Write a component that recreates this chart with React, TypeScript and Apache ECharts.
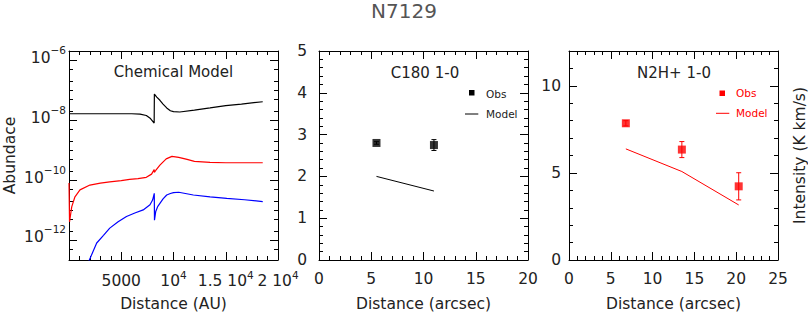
import React, { useEffect, useRef } from 'react';
import * as echarts from 'echarts';

const FONT = "'DejaVu Sans', 'Liberation Sans', sans-serif";
const INK = '#222';

// ---------- Panel 1: Chemical Model (Distance in AU, abundance) ----------
const blackX = [0, 2000, 4000, 6000, 6800, 7400, 7800, 8150, 8170, 8400, 8700, 9000, 9350, 9700, 10000, 10600, 12000, 13500, 15000, 16500, 18540];
const blackY = [1.66e-8, 1.66e-8, 1.66e-8, 1.66e-8, 1.62e-8, 1.45e-8, 1.15e-8, 8.1e-9, 7.6e-8, 6.0e-8, 4.7e-8, 3.5e-8, 2.6e-8, 2.1e-8, 1.95e-8, 1.9e-8, 2.2e-8, 2.6e-8, 3.1e-8, 3.5e-8, 4.2e-8];

const redX = [0, 50, 260, 570, 1050, 2000, 3000, 3900, 5000, 5800, 6600, 7400, 7900, 8150, 8170, 8300, 8700, 9300, 9850, 10500, 11300, 12000, 13500, 15000, 18540];
const redY = [7.9e-11, 4.0e-12, 1.26e-11, 2.75e-11, 4.7e-11, 6.8e-11, 7.9e-11, 8.7e-11, 9.5e-11, 1.05e-10, 1.12e-10, 1.23e-10, 1.58e-10, 2.24e-10, 1.82e-10, 2.09e-10, 3.16e-10, 5.1e-10, 6.2e-10, 5.75e-10, 4.9e-10, 4.2e-10, 3.9e-10, 3.8e-10, 3.8e-10];

const blueX = [1500, 1950, 2650, 3300, 3900, 4700, 5500, 6300, 7100, 7750, 8000, 8160, 8180, 8300, 8500, 8700, 9000, 9350, 9700, 10000, 10500, 11900, 13500, 15100, 16800, 18540];
const blueY = [7.9e-14, 2.1e-13, 7.8e-13, 1.41e-12, 2.45e-12, 4.0e-12, 6.0e-12, 7.9e-12, 1.0e-11, 1.48e-11, 2.14e-11, 3.6e-11, 4.5e-12, 8.9e-12, 1.32e-11, 1.66e-11, 2.34e-11, 3.16e-11, 3.55e-11, 3.8e-11, 3.9e-11, 3.16e-11, 2.75e-11, 2.45e-11, 2.19e-11, 1.9e-11];

const auMajor = [5000, 10000, 15000, 20000];
const auMinor = [1000, 2000, 3000, 4000, 6000, 7000, 8000, 9000, 11000, 12000, 13000, 14000, 16000, 17000, 18000, 19000];
const auTickLabels = ['{m|5000}', '{m|10}{s|4}', '{m|1.5 10}{s|4}', '{m|2 10}{s|4}'];

const abMajor = [1e-12, 1e-10, 1e-8, 1e-6];
const abMinor = [5e-13, 2e-12, 5e-12, 1e-11, 2e-11, 5e-11, 2e-10, 5e-10, 1e-9, 2e-9, 5e-9, 2e-8, 5e-8, 1e-7, 2e-7, 5e-7, 2e-6];
const abTickLabels = ['{m|10}{s|\u221212}', '{m|10}{s|\u221210}', '{m|10}{s|\u22128}', '{m|10}{s|\u22126}'];

// ---------- Panel 2: C18O 1-0 ----------
const c18oObsX = [5.5, 11.0];
const c18oObsY = [2.8, 2.75];
const c18oObsErr = [0.03, 0.13];
const c18oModelX = [5.5, 11.0];
const c18oModelY = [2.0, 1.65];
const c18oXTicks = [0, 5, 10, 15, 20];
const c18oYTicks = [0, 1, 2, 3, 4, 5];

// ---------- Panel 3: N2H+ 1-0 ----------
const n2hObsX = [6.8, 13.5, 20.3];
const n2hObsY = [7.85, 6.34, 4.23];
const n2hObsErr = [0.15, 0.46, 0.78];
const n2hModelX = [6.8, 13.5, 20.3];
const n2hModelY = [6.38, 5.08, 3.16];
const n2hXTicks = [0, 5, 10, 15, 20, 25];
const n2hYTicks = [0, 5, 10];

function minorBetween(majors: number[], step: number, max: number): number[] {
  const out: number[] = [];
  const n = Math.round(max / step);
  for (let i = 1; i < n; i++) {
    const v = +(i * step).toFixed(6);
    if (!majors.some((m) => Math.abs(m - v) < 1e-9)) out.push(v);
  }
  return out;
}

const tickLine = { color: '#000', width: 1 };

type Spec = {
  grid: number;
  type: 'value' | 'log';
  min: number;
  max: number;
  major: number[];
  minor: number[];
  label?: any;
  name?: any;
  name2?: any;
};

function buildAxes(spec: Spec, pos1: string, pos2: string) {
  const common = {
    gridIndex: spec.grid,
    type: spec.type,
    min: spec.min,
    max: spec.max,
    splitLine: { show: false },
    minorTick: { show: false },
    minorSplitLine: { show: false },
  };
  const line = { show: true, onZero: false, lineStyle: tickLine };
  const noLine = { show: false, onZero: false };
  const majorTick = { show: true, inside: true, length: 8, customValues: spec.major, lineStyle: tickLine };
  const minorTk = { show: true, inside: true, length: 4, customValues: spec.minor, lineStyle: tickLine };
  return [
    { ...common, position: pos1, axisLine: line, axisTick: majorTick, axisLabel: spec.label || { show: false }, ...(spec.name || {}) },
    { ...common, position: pos1, axisLine: noLine, axisTick: minorTk, axisLabel: { show: false } },
    { ...common, position: pos2, axisLine: line, axisTick: majorTick, axisLabel: { show: false }, ...(spec.name2 || {}) },
    { ...common, position: pos2, axisLine: noLine, axisTick: minorTk, axisLabel: { show: false } },
  ];
}

function plainLabel(values: number[], margin: number) {
  return {
    show: true,
    customValues: values,
    margin,
    color: INK,
    fontSize: 15.5,
    fontFamily: FONT,
    showMinLabel: true,
    showMaxLabel: true,
  };
}

function axisName(text: string, gap: number) {
  return {
    name: text,
    nameLocation: 'middle',
    nameGap: gap,
    nameMoveOverlap: false,
    nameTextStyle: { fontSize: 15.5, fontFamily: FONT, color: INK },
  };
}

// superscripts: the small token is padded below so its text rides high in the line
function richX() {
  return {
    m: { fontSize: 15.5, fontFamily: FONT, color: INK, lineHeight: 23 },
    s: { fontSize: 10.5, fontFamily: FONT, color: INK, lineHeight: 11, padding: [0, 0, 12, 0] },
  };
}
function richY() {
  return {
    m: { fontSize: 15.5, fontFamily: FONT, color: INK, lineHeight: 16, padding: [0, 0, 5, 0] },
    s: { fontSize: 10.5, fontFamily: FONT, color: INK, lineHeight: 11, padding: [0, 0, 21, 0] },
  };
}

function pickLabel(majors: number[], labels: string[], v: number, log: boolean) {
  const i = majors.findIndex((m) => (log ? Math.abs(Math.log10(m) - Math.log10(v)) < 0.01 : Math.abs(m - v) < 1e-6));
  return i >= 0 ? labels[i] : '';
}

function errorSeries(xi: number, yi: number, xs: number[], ys: number[], es: number[], color: string) {
  return {
    type: 'custom',
    xAxisIndex: xi,
    yAxisIndex: yi,
    data: xs.map((x, i) => [x, ys[i] - es[i], ys[i] + es[i]]),
    encode: { x: 0, y: [1, 2] },
    z: 2,
    silent: true,
    renderItem: (_p: any, api: any) => {
      const x = api.value(0);
      const lo = api.coord([x, api.value(1)]);
      const hi = api.coord([x, api.value(2)]);
      const c = 2.5;
      const st = { stroke: color, lineWidth: 1 };
      return {
        type: 'group',
        children: [
          { type: 'line', shape: { x1: lo[0], y1: lo[1], x2: hi[0], y2: hi[1] }, style: st },
          { type: 'line', shape: { x1: lo[0] - c, y1: lo[1], x2: lo[0] + c, y2: lo[1] }, style: st },
          { type: 'line', shape: { x1: hi[0] - c, y1: hi[1], x2: hi[0] + c, y2: hi[1] }, style: st },
        ],
      };
    },
  };
}

function txt(text: string, x: number, y: number, size: number, color: string, align = 'center') {
  return {
    type: 'text',
    x,
    y,
    silent: true,
    style: {
      text,
      fill: color,
      fontSize: size,
      fontFamily: FONT,
      align,
      verticalAlign: 'middle',
      textAlign: align,
      textVerticalAlign: 'middle',
    },
  };
}

export default function App() {
  const ref = useRef<HTMLDivElement>(null);
  useEffect(() => {
    if (!ref.current) return;
    const chart = echarts.init(ref.current, null, { renderer: 'svg' });

    const grids = [
      { left: 69, top: 51, width: 209, height: 209, outerBoundsMode: 'none', containLabel: false },
      { left: 319, top: 51, width: 209, height: 209, outerBoundsMode: 'none', containLabel: false },
      { left: 569, top: 51, width: 209, height: 209, outerBoundsMode: 'none', containLabel: false },
    ];

    const xAxes = [
      ...buildAxes(
        {
          grid: 0, type: 'value', min: 0, max: 20000, major: auMajor, minor: auMinor,
          label: {
            show: true, customValues: auMajor, margin: 9, showMinLabel: true, showMaxLabel: true,
            formatter: (v: number) => pickLabel(auMajor, auTickLabels, v, false),
            rich: richX(),
          },
          name: axisName('Distance (AU)', 36),
        },
        'bottom', 'top'
      ),
      ...buildAxes(
        {
          grid: 1, type: 'value', min: 0, max: 20, major: c18oXTicks, minor: minorBetween(c18oXTicks, 1, 20),
          label: plainLabel(c18oXTicks, 11),
          name: axisName('Distance (arcsec)', 36),
        },
        'bottom', 'top'
      ),
      ...buildAxes(
        {
          grid: 2, type: 'value', min: 0, max: 25, major: n2hXTicks, minor: minorBetween(n2hXTicks, 1, 25),
          label: plainLabel(n2hXTicks, 11),
          name: axisName('Distance (arcsec)', 36),
        },
        'bottom', 'top'
      ),
    ];

    const yAxes = [
      ...buildAxes(
        {
          grid: 0, type: 'log', min: 2.1e-13, max: 2.1e-6, major: abMajor, minor: abMinor,
          label: {
            show: true, customValues: abMajor, margin: 3, showMinLabel: true, showMaxLabel: true,
            formatter: (v: number) => pickLabel(abMajor, abTickLabels, v, true),
            rich: richY(),
          },
          name: axisName('Abundace', 51),
        },
        'left', 'right'
      ),
      ...buildAxes(
        {
          grid: 1, type: 'value', min: 0, max: 5, major: c18oYTicks, minor: minorBetween(c18oYTicks, 0.2, 5),
          label: plainLabel(c18oYTicks, 12),
        },
        'left', 'right'
      ),
      ...buildAxes(
        {
          grid: 2, type: 'value', min: 0, max: 12, major: n2hYTicks, minor: minorBetween(n2hYTicks, 1, 12),
          label: plainLabel(n2hYTicks, 8),
          name2: axisName('Intensity (K km/s)', 14),
        },
        'left', 'right'
      ),
    ];

    const curve = (xs: number[], ys: number[], color: string) => ({
      type: 'line',
      xAxisIndex: 0,
      yAxisIndex: 0,
      data: xs.map((x, i) => [x, ys[i]]),
      showSymbol: false,
      symbol: 'none',
      clip: true,
      silent: true,
      lineStyle: { color, width: 1.2 },
      z: 3,
    });

    const option: any = {
      animation: false,
      backgroundColor: '#fff',
      title: {
        text: 'N7129',
        left: 'center',
        top: 1,
        padding: 0,
        textStyle: { fontSize: 20, color: '#555', fontWeight: 'normal', fontFamily: FONT },
      },
      grid: grids,
      xAxis: xAxes,
      yAxis: yAxes,
      series: [
        curve(blackX, blackY, '#000000'),
        curve(redX, redY, '#ff0000'),
        curve(blueX, blueY, '#0000ff'),
        {
          type: 'line', xAxisIndex: 4, yAxisIndex: 4,
          data: c18oModelX.map((x, i) => [x, c18oModelY[i]]),
          showSymbol: false, symbol: 'none', silent: true,
          lineStyle: { color: '#000', width: 1 },
        },
        errorSeries(4, 4, c18oObsX, c18oObsY, c18oObsErr, '#000'),
        {
          type: 'scatter', xAxisIndex: 4, yAxisIndex: 4,
          data: c18oObsX.map((x, i) => [x, c18oObsY[i]]),
          symbol: 'rect', symbolSize: 8, silent: true,
          itemStyle: { color: '#000' }, z: 4,
        },
        {
          type: 'line', xAxisIndex: 8, yAxisIndex: 8,
          data: n2hModelX.map((x, i) => [x, n2hModelY[i]]),
          showSymbol: false, symbol: 'none', silent: true,
          lineStyle: { color: '#ff0000', width: 1 },
        },
        errorSeries(8, 8, n2hObsX, n2hObsY, n2hObsErr, '#ff0000'),
        {
          type: 'scatter', xAxisIndex: 8, yAxisIndex: 8,
          data: n2hObsX.map((x, i) => [x, n2hObsY[i]]),
          symbol: 'rect', symbolSize: 8, silent: true,
          itemStyle: { color: '#ff0000' }, z: 4,
        },
      ],
      graphic: [
        txt('Chemical Model', 173.5, 72, 15, INK),
        txt('C180 1-0', 425, 73, 15, INK),
        txt('N2H+ 1-0', 674, 73, 15, INK),
        // legend, panel 2
        { type: 'rect', silent: true, shape: { x: 469, y: 90, width: 5.5, height: 5.5 }, style: { fill: '#000' } },
        txt('Obs', 486, 93.5, 10.5, INK, 'left'),
        { type: 'line', silent: true, shape: { x1: 465, y1: 114, x2: 478.3, y2: 114 }, style: { stroke: '#000', lineWidth: 1 } },
        txt('Model', 486, 114, 10.5, INK, 'left'),
        // legend, panel 3
        { type: 'rect', silent: true, shape: { x: 719.5, y: 90.5, width: 5.5, height: 5.5 }, style: { fill: '#ff0000' } },
        txt('Obs', 736, 93.3, 10.5, '#ff0000', 'left'),
        { type: 'line', silent: true, shape: { x1: 716, y1: 113.3, x2: 729.3, y2: 113.3 }, style: { stroke: '#ff0000', lineWidth: 1 } },
        txt('Model', 736, 113.3, 10.5, '#ff0000', 'left'),
      ],
    };

    chart.setOption(option);
    return () => chart.dispose();
  }, []);

  return (
    <div
      ref={ref}
      style={{ position: 'absolute', left: 0, top: 0, width: 808, height: 312, background: '#fff' }}
    />
  );
}
